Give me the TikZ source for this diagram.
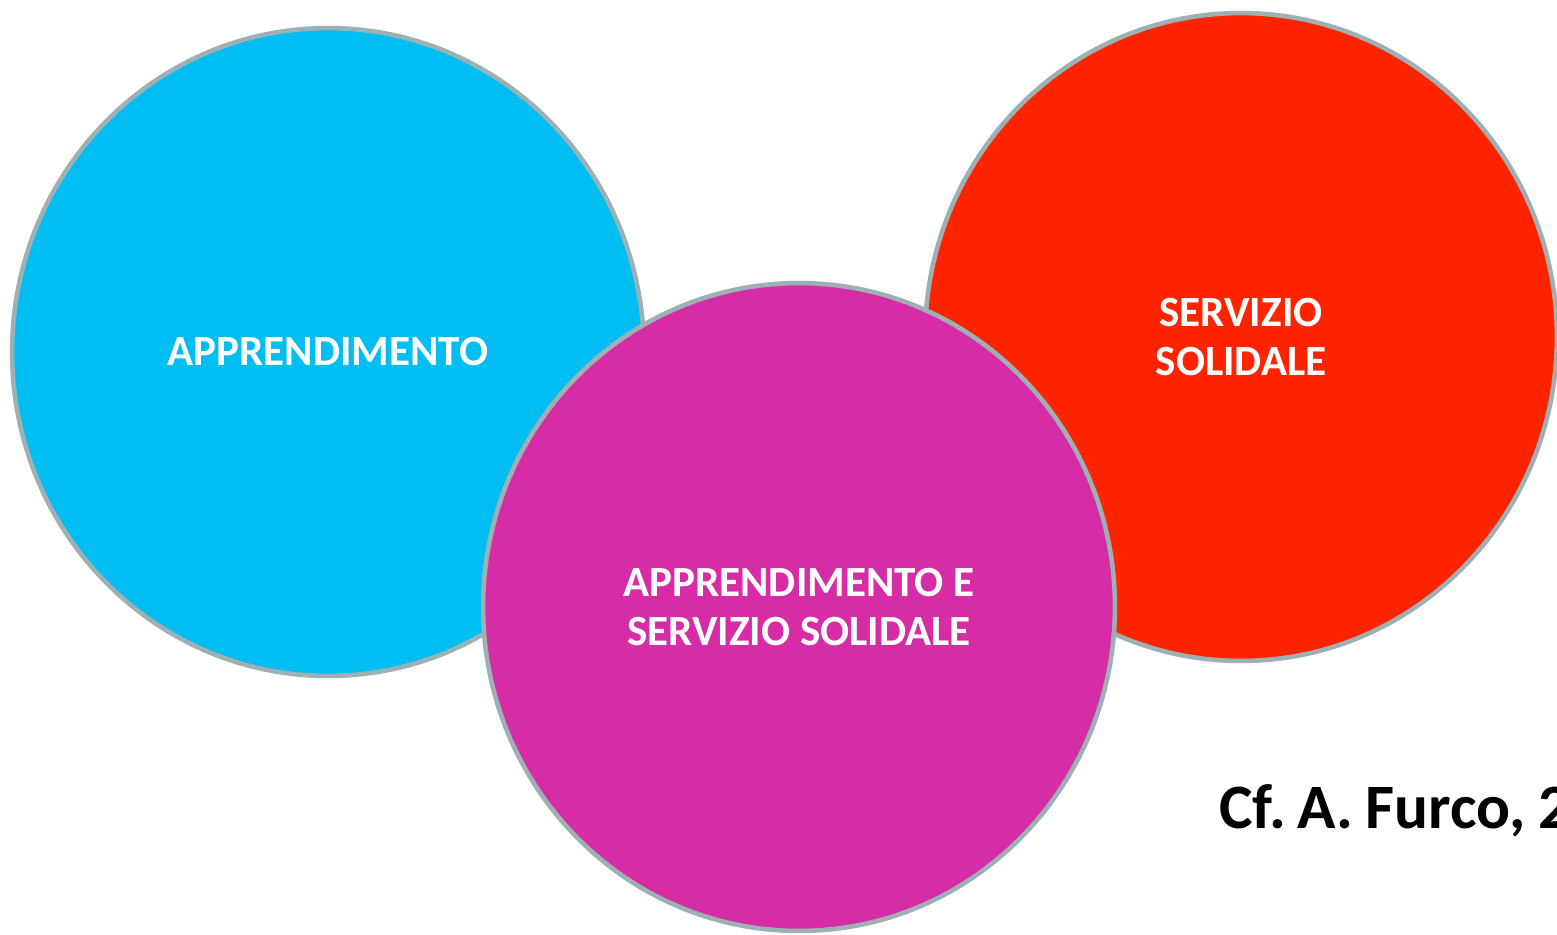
\documentclass[tikz,border=0pt]{standalone}
\usepackage{fontspec}
\setmainfont{Carlito}
\usetikzlibrary{positioning, shapes.geometric}
\definecolor{apprblue}{HTML}{00BEF2}
\definecolor{servred}{HTML}{FF2400}
\definecolor{bothpink}{HTML}{D62DA7}
\definecolor{rimgray}{HTML}{9DB0B3}
\tikzset{
    blob/.style={ellipse, draw=rimgray, line width=2.6pt, minimum width=12.64cm,
      minimum height=12.96cm, inner sep=0pt, align=center, text=white,
      font=\fontsize{24.5}{28}\selectfont\bfseries},
    cite/.style={anchor=base west, font=\fontsize{36}{44}\selectfont\bfseries},
}

\begin{document}
\begin{tikzpicture}[x=0.02cm, y=-0.02cm]
    \useasboundingbox (0,0) rectangle (1557,934);

    \node[blob, fill=apprblue] (appr) at (328,352) {\raisebox{-3pt}{APPRENDIMENTO}};
    \node[blob, fill=servred] (serv) at (1241,337) {SERVIZIO\\SOLIDALE};
    \node[blob, fill=bothpink] (both) at (799,607) {APPRENDIMENTO E\\SERVIZIO SOLIDALE};

    \node[cite] (furco) at (1213,828) {Cf.\hspace{0.18em}A.\hspace{0.2em}Furco,\hspace{0.2em}2};
\end{tikzpicture}
\end{document}
